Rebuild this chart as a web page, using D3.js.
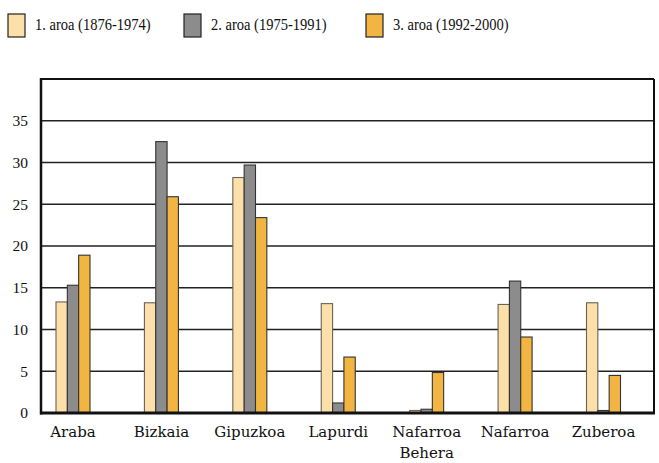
<!DOCTYPE html>
<html>
<head>
<meta charset="utf-8">
<script src="https://cdn.jsdelivr.net/npm/d3@7"></script>
<style>
  html, body { margin: 0; padding: 0; background: #fff; }
  svg { display: block; }
</style>
</head>
<body>
<svg id="chart" width="659" height="463"></svg>
<script>
const categories = ["Araba", "Bizkaia", "Gipuzkoa", "Lapurdi", "Nafarroa\nBehera", "Nafarroa", "Zuberoa"];
const seriesNames = ["1. aroa (1876-1974)", "2. aroa (1975-1991)", "3. aroa (1992-2000)"];
const series1 = [13.3, 13.2, 28.2, 13.1, 0.3, 13.0, 13.2];
const series2 = [15.3, 32.5, 29.7, 1.2, 0.45, 15.8, 0.3];
const series3 = [18.9, 25.9, 23.4, 6.7, 4.85, 9.1, 4.5];
const yTicks = [0, 5, 10, 15, 20, 25, 30, 35];
const colors = ["#FDDFAA", "#8C8C8C", "#F3B542"];

const SERIF = "'Liberation Serif', 'Times New Roman', serif";
const DSERIF = "'DejaVu Serif', serif";

const allSeries = [series1, series2, series3];
const svg = d3.select("#chart");

const plot = { left: 41, right: 654, top: 79, bottom: 413 };
const y = d3.scaleLinear().domain([0, 40]).range([plot.bottom, plot.top]);
const x = d3.scalePoint().domain(categories).range([73, 603.5]);
const sub = d3.scaleBand().domain([0, 1, 2]).range([-17, 17]).padding(0);

// gridlines
svg.append("g").selectAll("line").data(yTicks.filter(d => d > 0)).join("line")
  .attr("x1", plot.left).attr("x2", plot.right)
  .attr("y1", d => y(d)).attr("y2", d => y(d))
  .attr("stroke", "#222").attr("stroke-width", 1.3);

// y axis labels
const yAxis = d3.axisLeft(y).tickValues(yTicks).tickSize(0).tickPadding(13);
const gy = svg.append("g").attr("transform", `translate(${plot.left},0)`).call(yAxis);
gy.select(".domain").remove();
gy.selectAll("text").style("font-family", SERIF).style("font-size", "15.5px").attr("fill", "#111");

// bars
allSeries.forEach((vals, si) => {
  svg.append("g").selectAll("rect").data(vals).join("rect")
    .attr("x", (d, i) => x(categories[i]) + sub(si))
    .attr("width", sub.bandwidth())
    .attr("y", d => y(d))
    .attr("height", d => y(0) - y(d))
    .attr("fill", colors[si])
    .attr("stroke", si === 0 ? "#6b6258" : "#333")
    .attr("stroke-width", 1.1);
});

// frame
svg.append("line").attr("x1", plot.left).attr("x2", plot.right).attr("y1", plot.top).attr("y2", plot.top)
  .attr("stroke", "#111").attr("stroke-width", 2);
svg.append("line").attr("x1", plot.right).attr("x2", plot.right).attr("y1", plot.top).attr("y2", plot.bottom)
  .attr("stroke", "#111").attr("stroke-width", 2);
svg.append("line").attr("x1", plot.left).attr("x2", plot.left).attr("y1", plot.top - 1).attr("y2", plot.bottom + 1.5)
  .attr("stroke", "#111").attr("stroke-width", 2.5);
svg.append("line").attr("x1", plot.left - 1).attr("x2", plot.right + 1).attr("y1", plot.bottom).attr("y2", plot.bottom)
  .attr("stroke", "#111").attr("stroke-width", 3);

// x labels
const xl = svg.append("g").selectAll("text").data(categories).join("text")
  .attr("x", d => x(d))
  .attr("y", 437)
  .attr("text-anchor", "middle")
  .style("font-family", DSERIF)
  .style("font-size", "15px")
  .attr("fill", "#111");
xl.each(function(d) {
  const lines = d.split("\n");
  d3.select(this).selectAll("tspan").data(lines).join("tspan")
    .attr("x", x(d))
    .attr("dy", (l, i) => i === 0 ? 0 : 21)
    .text(l => l);
});

// legend
const legendX = [8, 184, 366];
const lg = svg.append("g").selectAll("g").data(seriesNames).join("g")
  .attr("transform", (d, i) => `translate(${legendX[i]},14)`);
lg.append("rect").attr("width", 17).attr("height", 23)
  .attr("fill", (d, i) => colors[i]).attr("stroke", "#222").attr("stroke-width", 1.2);
lg.append("text").attr("transform", "translate(27,15.5) scale(0.88,1)")
  .style("font-family", SERIF)
  .style("font-size", "16.5px").attr("fill", "#111")
  .text(d => d);
</script>
</body>
</html>
